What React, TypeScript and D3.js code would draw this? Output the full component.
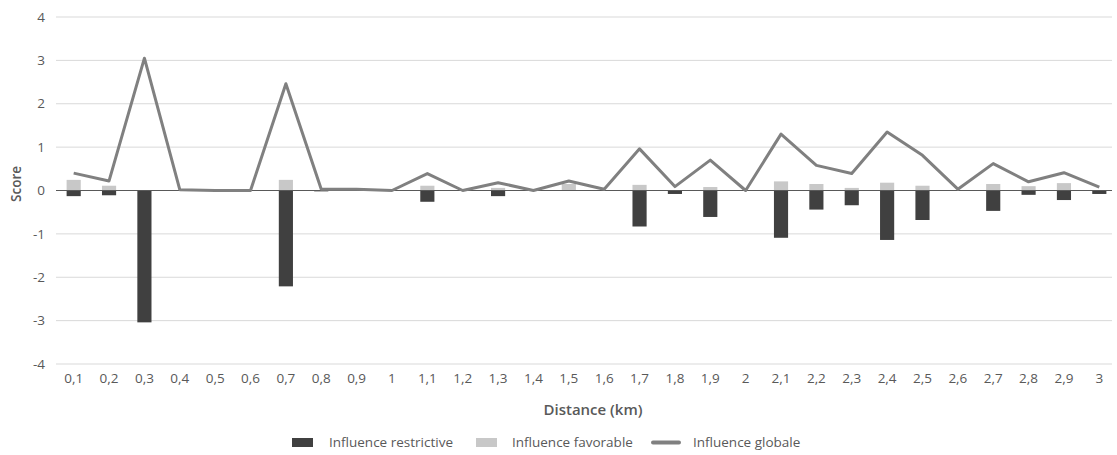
import React from "react";
import * as d3 from "d3";

const distances = ["0,1", "0,2", "0,3", "0,4", "0,5", "0,6", "0,7", "0,8", "0,9", "1", "1,1", "1,2", "1,3", "1,4", "1,5", "1,6", "1,7", "1,8", "1,9", "2", "2,1", "2,2", "2,3", "2,4", "2,5", "2,6", "2,7", "2,8", "2,9", "3"];

const restrictive = [-0.13, -0.11, -3.04, 0, 0, 0, -2.21, -0.02, 0, 0, -0.26, 0, -0.13, 0, 0, 0, -0.83, -0.08, -0.61, 0, -1.09, -0.44, -0.34, -1.14, -0.68, 0, -0.47, -0.1, -0.22, -0.08];

const favorable = [0.245, 0.11, 0, 0, 0, 0, 0.245, 0, 0, 0, 0.11, 0, 0.06, 0, 0.15, 0, 0.13, 0, 0.08, 0, 0.21, 0.15, 0.06, 0.18, 0.11, 0, 0.15, 0.1, 0.17, 0];

const globale = [0.4, 0.22, 3.05, 0.02, 0, 0, 2.46, 0.03, 0.03, 0, 0.39, 0, 0.18, 0, 0.22, 0.03, 0.96, 0.09, 0.7, 0, 1.3, 0.58, 0.39, 1.35, 0.81, 0.03, 0.62, 0.2, 0.41, 0.08];

const yTicks = [-4, -3, -2, -1, 0, 1, 2, 3, 4];

const legendItems = [
  { label: "Influence restrictive", color: "#404040", kind: "bar" },
  { label: "Influence favorable", color: "#c8c8c8", kind: "bar" },
  { label: "Influence globale", color: "#808080", kind: "line" },
];

const W = 1117;
const H = 455;
const FONT = "'Open Sans', 'Noto Sans', sans-serif";

export default function App() {
  const x = d3.scaleBand<string>().domain(distances).range([56, 1117]).paddingInner(0.6).paddingOuter(0.3);
  const y = d3.scaleLinear().domain([-4, 4]).range([364, 17]);
  const bw = x.bandwidth();
  const cx = (d: string) => (x(d) ?? 0) + bw / 2;

  const line = d3
    .line<number>()
    .x((_, i) => cx(distances[i]))
    .y((v) => y(v));

  const legendX = [292, 476, 653];
  const textX = [329, 512, 693];

  return (
    <svg width={W} height={H} style={{ position: "absolute", left: 0, top: 0, fontFamily: FONT }}>
      <rect width={W} height={H} fill="#fff" />
      {yTicks.map((t) => (
        <g key={t}>
          {t !== 0 && <line x1={56} x2={1112} y1={y(t)} y2={y(t)} stroke="#d9d9d9" strokeWidth={1} />}
          <text x={45} y={y(t)} dy="0.35em" textAnchor="end" fontSize={13.5} fill="#595959">
            {t}
          </text>
        </g>
      ))}
      {distances.map((d, i) => (
        <g key={d}>
          <rect x={x(d)} y={y(0)} width={bw} height={y(restrictive[i]) - y(0)} fill="#404040" />
          <rect x={x(d)} y={y(favorable[i])} width={bw} height={y(0) - y(favorable[i])} fill="#c8c8c8" />
          <text x={cx(d)} y={378} dy="0.35em" textAnchor="middle" fontSize={13.5} fill="#595959">
            {d}
          </text>
        </g>
      ))}
      <line x1={56} x2={1112} y1={y(0)} y2={y(0)} stroke="#595959" strokeWidth={1} />
      <path d={line(globale) ?? ""} fill="none" stroke="#808080" strokeWidth={3} strokeLinejoin="round" />
      <text x={593} y={410} dy="0.35em" textAnchor="middle" fontSize={15} fontWeight={600} fill="#595959">
        Distance (km)
      </text>
      <text transform={`translate(16,184) rotate(-90)`} dy="0.35em" textAnchor="middle" fontSize={13.5} fontWeight={600} fill="#595959">
        Score
      </text>
      {legendItems.map((it, i) => (
        <g key={it.label}>
          {it.kind === "bar" ? (
            <rect x={legendX[i]} y={438} width={21} height={9} fill={it.color} />
          ) : (
            <line x1={legendX[i]} x2={legendX[i] + 26} y1={442.5} y2={442.5} stroke={it.color} strokeWidth={4} strokeLinecap="round" />
          )}
          <text x={textX[i]} y={442.5} dy="0.35em" fontSize={13.5} fill="#595959">
            {it.label}
          </text>
        </g>
      ))}
    </svg>
  );
}
